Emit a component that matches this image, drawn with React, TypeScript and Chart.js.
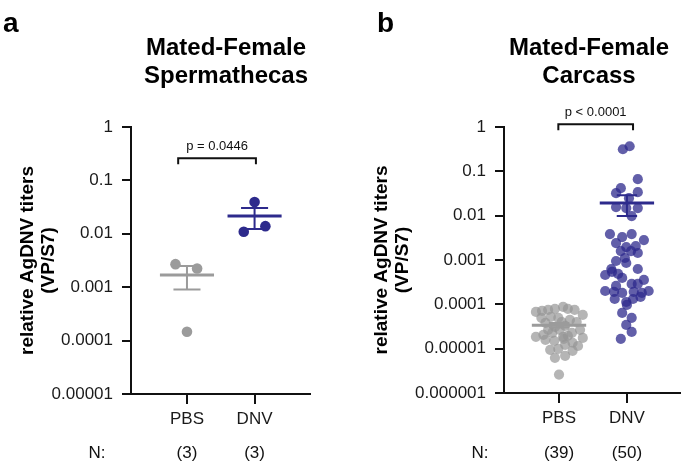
import React, { useEffect, useRef } from "react";
import { Chart, registerables } from "chart.js";

Chart.register(...registerables);
Chart.defaults.font.family = "'Liberation Sans', Arial, sans-serif";

// ---------- data ----------
const categories = ["PBS", "DNV"];

const yTicksA = [1e-5, 1e-4, 1e-3, 1e-2, 1e-1, 1];
const yTickLabelsA = ["0.00001", "0.0001", "0.001", "0.01", "0.1", "1"];
const yTicksB = [1e-6, 1e-5, 1e-4, 1e-3, 1e-2, 1e-1, 1];
const yTickLabelsB = ["0.000001", "0.00001", "0.0001", "0.001", "0.01", "0.1", "1"];

// Panel a: spermathecas
const pbsAValues = [0.0027, 0.00224, 0.000146];
const pbsAJitter = [-0.17, 0.15, 0.0];
const dnvAValues = [0.0395, 0.0109, 0.0139];
const dnvAJitter = [0.0, -0.16, 0.16];

// Panel b: carcass
const pbsBValues = [
  6.75e-5, 7.1e-5, 7.5e-5, 7.9e-5, 8.75e-5, 7.9e-5, 7.5e-5, 5.8e-5,
  5.2e-5, 4.95e-5, 4.46e-5, 3.82e-5, 4.0e-5,
  3.27e-5, 3.1e-5, 2.27e-5,
  1.85e-5, 2.05e-5, 2.27e-5, 1.85e-5, 1.95e-5, 1.58e-5, 1.5e-5, 1.67e-5, 1.36e-5, 1.75e-5,
  9.4e-6, 9.9e-6, 1.22e-5, 8.96e-6,
  6.2e-6, 6.9e-6, 2.6e-6,
  4.95e-5, 4.0e-5, 2.66e-5, 2.66e-5, 2.66e-5, 1.15e-5,
];
const pbsBJitter = [
  -0.34, -0.25, -0.16, -0.06, 0.06, 0.13, 0.23, 0.35,
  -0.12, -0.01, 0.16, -0.2, 0.04,
  0.09, -0.06, 0.19,
  -0.34, -0.23, -0.1, 0.06, 0.13, -0.2, -0.07, 0.07, 0.2, 0.35,
  -0.13, -0.01, 0.09, 0.2,
  -0.06, 0.09, 0.0,
  -0.26, 0.26, -0.16, 0.31, 0.01, 0.28,
];
const dnvBValues = [
  0.315, 0.368, 0.0665, 0.0417, 0.0322, 0.0339, 0.0248, 0.0156, 0.0148, 0.0148,
  0.00977, 0.00385, 0.00329, 0.00385, 0.00282, 0.00241, 0.00196, 0.00206, 0.00159, 0.00159,
  0.00144, 0.000627, 0.000949, 0.000855, 0.000627, 0.000459, 0.000537, 0.000484, 0.000394, 0.000288,
  0.000288, 0.000355, 0.00026, 0.0002, 0.000191, 0.000181, 0.000191, 0.000181, 0.0002, 0.000132,
  0.000113, 0.000132, 0.000097, 0.000147, 0.0000641, 0.0000495, 0.0000344, 0.0000239, 0.0000167, 0.00111,
];
const dnvBJitter = [
  -0.06, 0.04, 0.16, -0.09, -0.16, 0.16, 0.03, -0.16, -0.01, 0.16,
  0.07, -0.25, -0.07, 0.07, 0.25, -0.16, -0.01, 0.13, -0.09, 0.06,
  0.16, -0.23, -0.16, -0.01, 0.16, -0.32, -0.22, -0.13, -0.07, 0.07,
  0.16, 0.25, -0.16, -0.32, -0.19, -0.07, 0.1, 0.22, 0.32, -0.18,
  -0.01, 0.09, 0.0, 0.2, -0.07, 0.07, -0.01, 0.07, -0.09, -0.03,
];

const titleA = ["Mated-Female", "Spermathecas"];
const titleB = ["Mated-Female", "Carcass"];
const yTitle = ["relative AgDNV titers", "(VP/S7)"];
const pTextA = "p = 0.0446";
const pTextB = "p < 0.0001";

// ---------- helpers ----------
const GRAY = "#9b9b9b";
const NAVY = "#2d2a8c";

function meanSem(v: number[]) {
  const n = v.length;
  const m = v.reduce((a, b) => a + b, 0) / n;
  const sd = Math.sqrt(v.reduce((a, b) => a + (b - m) * (b - m), 0) / (n - 1));
  return { m, sem: sd / Math.sqrt(n) };
}

function groupDatasets(values: number[], jitter: number[], center: number, pointColor: string, lineColor: string, radius: number, meanHalf: number, capHalf: number) {
  const { m, sem } = meanSem(values);
  const lo = m - sem;
  const hi = m + sem;
  return [
    {
      data: [{ x: center - meanHalf, y: m }, { x: center + meanHalf, y: m }],
      showLine: true, borderColor: lineColor, borderWidth: 3, pointRadius: 0, order: 0,
    },
    {
      data: [
        { x: center - capHalf, y: hi }, { x: center + capHalf, y: hi }, { x: center, y: null },
        { x: center, y: hi }, { x: center, y: lo }, { x: center, y: null },
        { x: center - capHalf, y: lo }, { x: center + capHalf, y: lo },
      ],
      showLine: true, spanGaps: false, borderColor: lineColor, borderWidth: 2, pointRadius: 0, order: 0,
    },
    {
      data: values.map((v, i) => ({ x: center + jitter[i], y: v })),
      showLine: false, pointRadius: radius, pointBackgroundColor: pointColor, backgroundColor: pointColor,
      pointBorderWidth: 0, borderWidth: 0, order: 1,
    },
  ];
}

const decorPlugin = {
  id: "decor",
  afterDraw(chart: any, _args: any, o: any) {
    const { ctx } = chart;
    const xs = chart.scales.x;
    const ys = chart.scales.y;
    ctx.save();
    ctx.fillStyle = "#000";
    ctx.strokeStyle = "#111";
    ctx.font = "bold 28px 'Liberation Sans', Arial, sans-serif";
    ctx.textAlign = "left";
    ctx.textBaseline = "alphabetic";
    ctx.fillText(o.letter, o.letterX, 32);
    ctx.font = "bold 24px 'Liberation Sans', Arial, sans-serif";
    ctx.textAlign = "center";
    o.title.forEach((t: string, i: number) => ctx.fillText(t, o.titleX, 55 + i * 28));
    // bracket
    const x1 = xs.getPixelForValue(o.bracket[0]);
    const x2 = xs.getPixelForValue(o.bracket[1]);
    const by = ys.getPixelForValue(o.bracketY);
    ctx.lineWidth = 2;
    ctx.beginPath();
    ctx.moveTo(x1, by + 6);
    ctx.lineTo(x1, by);
    ctx.lineTo(x2, by);
    ctx.lineTo(x2, by + 6);
    ctx.stroke();
    ctx.font = "13px 'Liberation Sans', Arial, sans-serif";
    ctx.fillStyle = "#111";
    ctx.fillText(o.pText, (x1 + x2) / 2, by - 8);
    // N row
    ctx.font = "17px 'Liberation Sans', Arial, sans-serif";
    ctx.textBaseline = "middle";
    ctx.fillText("N:", o.nX, 453);
    o.counts.forEach((n: number, i: number) => ctx.fillText(`(${n})`, xs.getPixelForValue(i + 1), 453));
    ctx.restore();
  },
};

type PanelProps = {
  width: number; left: number; axisLeft: number; padRight: number; xHeight: number;
  xMin: number; xMax: number; yTicks: number[]; yLabels: string[];
  datasets: any[]; titlePad: number; decor: any;
};

function Panel(p: PanelProps) {
  const ref = useRef<HTMLCanvasElement>(null);
  useEffect(() => {
    const chart = new Chart(ref.current as HTMLCanvasElement, {
      type: "scatter",
      data: { datasets: p.datasets },
      plugins: [decorPlugin],
      options: {
        responsive: false,
        animation: false,
        events: [],
        layout: { padding: { top: 127, right: p.padRight, left: 0, bottom: 0 } },
        plugins: { legend: { display: false }, tooltip: { enabled: false }, decor: p.decor } as any,
        scales: {
          x: {
            type: "linear",
            min: p.xMin,
            max: p.xMax,
            afterFit: (s: any) => { s.height = p.xHeight; },
            afterBuildTicks: (s: any) => { s.ticks = categories.map((_, i) => ({ value: i + 1 })); },
            ticks: { callback: (_v: any, i: number) => categories[i], font: { size: 17 }, color: "#1a1a1a", padding: 5, autoSkip: false, maxRotation: 0 },
            grid: { drawOnChartArea: false, tickLength: 10, color: "#111", lineWidth: 2 },
            border: { display: true, color: "#111", width: 2 },
          },
          y: {
            type: "logarithmic",
            min: p.yTicks[0],
            max: p.yTicks[p.yTicks.length - 1],
            afterFit: (s: any) => { s.width = p.axisLeft; },
            afterBuildTicks: (s: any) => { s.ticks = p.yTicks.map((v) => ({ value: v })); },
            ticks: { callback: (_v: any, i: number) => p.yLabels[i], font: { size: 17 }, color: "#1a1a1a", padding: 9, autoSkip: false },
            grid: { drawOnChartArea: false, tickLength: 9, color: "#111", lineWidth: 2 },
            border: { display: true, color: "#111", width: 2 },
            title: {
              display: true, text: yTitle, color: "#000",
              font: { size: 19, weight: "bold", lineHeight: 1.1 },
              padding: { top: p.titlePad, bottom: 0 },
            },
          },
        },
      } as any,
    });
    return () => chart.destroy();
  }, []);
  return (
    <canvas ref={ref} width={p.width} height={466}
      style={{ position: "absolute", left: p.left, top: 0, width: p.width, height: 466 }} />
  );
}

export default function App() {
  const dsA = [
    ...groupDatasets(pbsAValues, pbsAJitter, 1, GRAY, GRAY, 5.3, 0.4, 0.2),
    ...groupDatasets(dnvAValues, dnvAJitter, 2, NAVY, NAVY, 5.3, 0.4, 0.2),
  ];
  const dsB = [
    ...groupDatasets(pbsBValues, pbsBJitter, 1, "rgba(150,150,150,0.7)", GRAY, 5.1, 0.4, 0.15),
    ...groupDatasets(dnvBValues, dnvBJitter, 2, "rgba(45,42,140,0.75)", NAVY, 5.1, 0.4, 0.15),
  ];
  return (
    <div style={{ position: "absolute", left: 0, top: 0, width: 685, height: 466, background: "#fff" }}>
      <Panel width={342} left={0} axisLeft={131} padRight={32} xHeight={72} xMin={0.172} xMax={2.82}
        yTicks={yTicksA} yLabels={yTickLabelsA} datasets={dsA} titlePad={17}
        decor={{ letter: "a", letterX: 3, title: titleA, titleX: 226, bracket: [0.87, 2.02], bracketY: 0.26, pText: pTextA, nX: 97, counts: [pbsAValues.length, dnvAValues.length] }} />
      <Panel width={343} left={342} axisLeft={162} padRight={4} xHeight={73} xMin={0.19} xMax={2.78}
        yTicks={yTicksB} yLabels={yTickLabelsB} datasets={dsB} titlePad={29}
        decor={{ letter: "b", letterX: 35, title: titleB, titleX: 247, bracket: [0.99, 2.09], bracketY: 1.15, pText: pTextB, nX: 138, counts: [pbsBValues.length, dnvBValues.length] }} />
    </div>
  );
}
